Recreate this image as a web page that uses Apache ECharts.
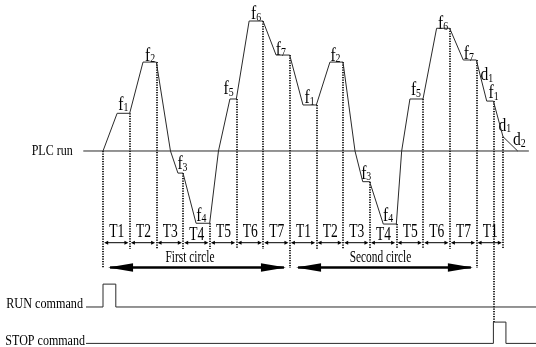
<!DOCTYPE html>
<html><head><meta charset="utf-8">
<script src="https://cdn.jsdelivr.net/npm/echarts@6/dist/echarts.min.js"></script>
<style>html,body{margin:0;padding:0;background:#fff}#c{width:536px;height:347px}</style>
</head><body><div id="c"></div>
<script>
// ---------------- data ----------------
// time in units of one step period T (T boundaries at integers), frequency in Hz-like units
const curveT = [0, 0.53, 1, 1.5, 2, 2.53, 2.81, 3, 3.49, 4, 4.33, 4.76, 5, 5.48, 6, 6.49, 7,
                7.5, 8, 8.51, 9, 9.45, 9.74, 10, 10.51, 11, 11.2, 11.51, 12, 12.51, 13, 13.51, 14,
                14.39, 14.64, 15, 15.55];
const curveF = [0, 14.5, 14.5, 34.2, 34.2, 0, -8.5, -8.5, -27.8, -27.8, 0, 20, 20, 50, 50, 36.9, 36.9,
                17.7, 17.7, 34.2, 34.2, 0, -11.8, -11.8, -28.1, -28.1, 0, 20, 20, 47.2, 47.2, 35, 35,
                19.2, 19.2, 5.5, 0];
const freqLabels = ['f1','f2','f3','f4','f5','f6','f7','f1','f2','f3','f4','f5','f6','f7','d1','f1','d1','d2'];
const freqLabelVertex = [[1,2],[3,4],[6,7],[8,9],[11,12],[13,14],[15,16],[17,18],[19,20],[22,23],[24,25],[27,28],[29,30],[31,32],[32,32],[33,34],[34,34],[35,35]];
const periodBounds = [0,1,2,3,4,5,6,7,8,9,10,11,12,13,14,15];
const periodLabels = ['T1','T2','T3','T4','T5','T6','T7','T1','T2','T3','T4','T5','T6','T7','T1'];
const circleBounds = [0, 7, 14];
const circleNames = ['First circle', 'Second circle'];
const circleSpans = [[0.19, 6.86], [7.24, 13.87]];
const stopTime = 14.64;
const signalNames = ['PLC run', 'RUN command', 'STOP command'];
const runPulse = [0, 0.48];
const stopPulse = [14.64, 15.11];

// ---------------- layout (not data) ----------------
const X_MIN = -3.8625, X_MAX = 16.2375, Y_MIN = -75.385, Y_MAX = 58.077;
const LV = { runLow: -60, runHigh: -51.2, stopLow: -74, stopHigh: -65.8, tArrow: -35.27, cArrow: -44.8, divEnd: -37.7 };
const LINE_START = { plc: -0.739, run: -0.6375, stop: -0.6375 };
const LINE_END = { plc: 15.97, run: X_MAX, stop: X_MAX };
const labelOffsets = [[0,-9],[0.5,-7],[2,-9.5],[-1.5,-8],[-4.5,-10.5],[0,-7],[-2,-6],[0,-7.5],[-1,-7],[0,-8.5],[-1.7,-9],[-0.5,-9],[0,-5],[-1,-6.5],[10.5,14.5],[3.5,-8.5],[11.5,24],[16.3,3.3]];
const FONT = "'Liberation Serif','Times New Roman',serif";
const INK = '#2a2a2a';

function fAt(t) { const i = curveT.indexOf(t); return curveF[i]; }

// text items
const texts = [];
freqLabels.forEach((lab, k) => {
  const [a, b] = freqLabelVertex[k];
  texts.push({ x: (curveT[a] + curveT[b]) / 2, y: (curveF[a] + curveF[b]) / 2,
    dx: labelOffsets[k][0], dy: labelOffsets[k][1] + 0.5, sx: 0.82,
    text: '{m|' + lab[0] + '}{s|' + lab.slice(1) + '}',
    rich: { m: { fontSize: 19, fontFamily: FONT, fill: '#000' }, s: { fontSize: 12, fontFamily: FONT, fill: '#000', verticalAlign: 'bottom' } } });
});
periodLabels.forEach((lab, k) => {
  texts.push({ x: (periodBounds[k] + periodBounds[k + 1]) / 2, y: LV.tArrow,
    dx: 0.5, dy: lab === 'T4' ? -7 : -10, sx: 0.75, text: lab, fontSize: 18 });
});
circleNames.forEach((lab, k) => {
  texts.push({ x: (circleSpans[k][0] + circleSpans[k][1]) / 2, y: LV.cArrow,
    dx: k === 0 ? -7 : -4, dy: -10, sx: 0.71, text: lab, fontSize: 16 });
});
texts.push({ x: LINE_START.plc, y: 0, dx: -10.6, dy: 0, sx: 0.8, text: signalNames[0], fontSize: 15, align: 'right' });
texts.push({ x: LINE_START.run, y: LV.runLow, dx: -3, dy: -2.5, sx: 0.84, text: signalNames[1], fontSize: 14.5, align: 'right' });
texts.push({ x: LINE_START.stop, y: LV.stopLow, dx: -1, dy: -2, sx: 0.83, text: signalNames[2], fontSize: 14.5, align: 'right' });

// arrows
const arrows = [];
for (let k = 0; k < periodBounds.length - 1; k++) arrows.push([periodBounds[k], periodBounds[k + 1], LV.tArrow, 0]);
circleSpans.forEach(s => arrows.push([s[0], s[1], LV.cArrow, 1]));

// dotted dividers
const dividerT = periodBounds.concat([stopTime]);
const dividers = dividerT.map(t => ({
  coords: [[t, fAt(t)], [t, t === stopTime ? LV.stopHigh : (circleBounds.indexOf(t) >= 0 ? LV.cArrow - 0.2 : LV.divEnd)]]
}));

const chart = echarts.init(document.getElementById('c'), null, { renderer: 'canvas' });
chart.setOption({
  animation: false,
  backgroundColor: '#fff',
  grid: { left: 0, right: 0, top: 0, bottom: 0 },
  xAxis: { type: 'value', min: X_MIN, max: X_MAX, show: false },
  yAxis: { type: 'value', min: Y_MIN, max: Y_MAX, show: false },
  series: [
    { type: 'line', name: 'frequency', data: curveT.map((t, i) => [t, curveF[i]]), symbol: 'none',
      lineStyle: { color: INK, width: 1 }, silent: true },
    { type: 'line', name: signalNames[0], data: [[LINE_START.plc, 0], [LINE_END.plc, 0]], symbol: 'none',
      lineStyle: { color: INK, width: 1 }, silent: true },
    { type: 'line', name: signalNames[1], symbol: 'none', lineStyle: { color: INK, width: 1 }, silent: true,
      data: [[LINE_START.run, LV.runLow], [runPulse[0], LV.runLow], [runPulse[0], LV.runHigh], [runPulse[1], LV.runHigh], [runPulse[1], LV.runLow], [LINE_END.run, LV.runLow]] },
    { type: 'line', name: signalNames[2], symbol: 'none', lineStyle: { color: INK, width: 1 }, silent: true,
      data: [[LINE_START.stop, LV.stopLow], [stopPulse[0], LV.stopLow], [stopPulse[0], LV.stopHigh], [stopPulse[1], LV.stopHigh], [stopPulse[1], LV.stopLow], [LINE_END.stop, LV.stopLow]] },
    { type: 'lines', coordinateSystem: 'cartesian2d', data: dividers, silent: true,
      lineStyle: { color: '#000', width: 1.7, type: [1.2, 1.3], opacity: 1 } },
    { type: 'custom', coordinateSystem: 'cartesian2d', clip: false, silent: true,
      data: arrows,
      renderItem: (params, api) => {
        const a = api.coord([api.value(0), api.value(2)]);
        const b = api.coord([api.value(1), api.value(2)]);
        const big = api.value(3) === 1;
        const L = big ? 25 : 4, W = big ? 4.2 : 2, ox = big ? 0 : 1.2;
        const ax = a[0] + ox, bx = b[0] - ox;
        return { type: 'group', children: [
          { type: 'line', shape: { x1: ax + 2, y1: a[1], x2: bx - 2, y2: b[1] }, style: { stroke: '#000', lineWidth: big ? 2.4 : 1 } },
          { type: 'polygon', shape: { points: [[ax, a[1]], [ax + L, a[1] - W], [ax + L, a[1] + W]] }, style: { fill: '#000' } },
          { type: 'polygon', shape: { points: [[bx, b[1]], [bx - L, b[1] - W], [bx - L, b[1] + W]] }, style: { fill: '#000' } }
        ] };
      } },
    { type: 'custom', coordinateSystem: 'cartesian2d', clip: false, silent: true,
      data: texts.map(t => [t.x, t.y]),
      renderItem: (params, api) => {
        const it = texts[params.dataIndex];
        const p = api.coord([api.value(0), api.value(1)]);
        const style = { text: it.text, fill: '#000', align: it.align || 'center', verticalAlign: 'middle',
          fontFamily: FONT, fontSize: it.fontSize || 17 };
        if (it.rich) style.rich = it.rich;
        return { type: 'text', x: p[0] + it.dx, y: p[1] + it.dy, scaleX: it.sx, style: style };
      } }
  ]
});
</script></body></html>
